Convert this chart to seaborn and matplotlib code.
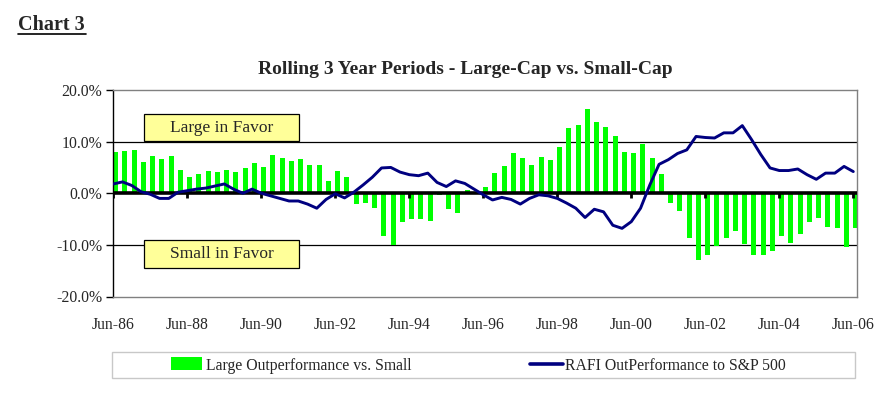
import numpy as np
import pandas as pd
import matplotlib
matplotlib.use("Agg")
import matplotlib.pyplot as plt
from matplotlib.patches import Rectangle
from matplotlib.lines import Line2D
import seaborn as sns

# ---- data (quarterly, Jun-86 .. Jun-06) ----
large_vs_small = [
    8.0, 8.1, 8.3, 6.0, 7.3, 6.7, 7.3, 4.5, 3.1, 3.7,
    4.4, 4.1, 4.5, 4.1, 4.8, 5.8, 5.0, 7.5, 6.9, 6.2,
    6.6, 5.5, 5.5, 2.4, 4.4, 3.2, -2.1, -1.8, -2.9, -8.2,
    -10.1, -5.6, -4.9, -4.9, -5.3, -0.3, -3.1, -3.8, 0.6, 0.2,
    1.2, 3.9, 5.2, 7.8, 6.8, 5.4, 7.1, 6.4, 9.0, 12.6,
    13.2, 16.4, 13.8, 12.8, 11.0, 7.9, 7.7, 9.6, 6.8, 3.7,
    -1.8, -3.4, -8.6, -12.9, -11.9, -10.2, -8.6, -7.3, -9.9, -11.9,
    -11.9, -11.2, -8.2, -9.7, -7.8, -5.6, -4.7, -6.6, -6.7, -10.5,
    -6.7,
]
rafi_vs_sp500 = [
    1.8, 2.2, 1.5, 0.3, -0.2, -1.0, -1.0, 0.2, 0.5, 0.8,
    1.0, 1.4, 1.8, 0.8, 0.0, 0.8, 0.0, -0.5, -1.0, -1.5,
    -1.5, -2.1, -2.9, -1.2, -0.1, -0.9, 0.2, 1.6, 3.1, 4.9,
    5.0, 4.1, 3.6, 3.4, 3.9, 2.1, 1.3, 2.4, 1.9, 0.8,
    -0.3, -1.3, -0.8, -1.2, -2.1, -1.0, -0.3, -0.5, -1.0, -1.9,
    -2.9, -4.7, -3.1, -3.6, -6.2, -6.8, -5.5, -2.9, 1.6, 5.6,
    6.5, 7.7, 8.4, 11.0, 10.8, 10.7, 11.7, 11.7, 13.1, 10.4,
    7.5, 4.9, 4.4, 4.4, 4.7, 3.6, 2.7, 3.9, 3.9, 5.2,
    4.2,
]
x_labels = ["Jun-86", "Jun-88", "Jun-90", "Jun-92", "Jun-94", "Jun-96",
            "Jun-98", "Jun-00", "Jun-02", "Jun-04", "Jun-06"]
y_ticks = [-20, -10, 0, 10, 20]

idx = np.arange(len(large_vs_small))
df = pd.DataFrame({"q": idx, "qbar": idx + 0.25,
                   "large": large_vs_small, "rafi": rafi_vs_sp500})

sns.set_style("white")
plt.rcParams["font.family"] = ["Liberation Serif", "DejaVu Serif"]

W, H = 895, 394
fig = plt.figure(figsize=(W / 100, H / 100), dpi=100)
fig.patch.set_facecolor("white")

L, R, T, B = 113.3, 856.7, 90.0, 296.5
ax = fig.add_axes([L / W, 1 - B / H, (R - L) / W, (B - T) / H])

GREEN = "#00FF00"
NAVY = "#000080"

sns.barplot(data=df, x="qbar", y="large", native_scale=True, width=0.56,
            color=GREEN, saturation=1, errorbar=None, ax=ax, zorder=2,
            linewidth=0)
ax.axhline(0, color="black", lw=2.6, zorder=3)
sns.lineplot(data=df, x="q", y="rafi", color=NAVY, linewidth=2.1,
             ax=ax, zorder=4)

ax.set_xlim(0, (R - L) / 9.25)
ax.set_ylim(-20, 20)

# gridlines at +/-10
for yv in (-10, 10):
    ax.axhline(yv, color="black", lw=0.9, zorder=1)

# spines
for s in ("top", "right", "bottom"):
    ax.spines[s].set_color("#808080")
    ax.spines[s].set_linewidth(1.0)
ax.spines["left"].set_color("black")
ax.spines["left"].set_linewidth(1.0)

# y axis
ax.set_yticks(y_ticks)
ax.set_yticklabels([f"{v:.1f}%" for v in y_ticks], fontsize=11.3)
ax.tick_params(axis="y", direction="out", length=5, width=1, color="black",
               pad=3, left=True)

# x axis labels at bottom; tick marks on zero line
xt = np.arange(0, len(idx), 8)
ax.set_xticks(xt)
ax.set_xticklabels(x_labels, fontsize=11.3)
ax.tick_params(axis="x", length=0, pad=15)
ax.vlines(xt, -1.0, 0, color="black", lw=2.0, zorder=3)
ax.set_xlabel("")
ax.set_ylabel("")

# annotation boxes
for (y0, y1, label) in ((10.06, 15.4, "Large in Favor"),
                        (-14.4, -9.03, "Small in Favor")):
    ax.add_patch(Rectangle((3.35, y0), 20.07 - 3.35, y1 - y0,
                           facecolor="#FFFF99", edgecolor="black", lw=0.9,
                           zorder=5))
    ax.text((3.35 + 20.07) / 2, (y0 + y1) / 2, label, ha="center",
            va="center", fontsize=12.5, zorder=6)

# titles
fig.text(18 / W, 1 - 25 / H, "Chart 3", fontsize=14.5, fontweight="bold",
         ha="left", va="center")
fig.add_artist(Line2D([18 / W, 86 / W], [1 - 34 / H, 1 - 34 / H],
                      color="black", lw=1.2))
fig.text(465 / W, 1 - 70 / H,
         "Rolling 3 Year Periods - Large-Cap vs. Small-Cap",
         fontsize=14, fontweight="bold", ha="center", va="center")

# legend box (drawn manually in figure coords)
fig.add_artist(Rectangle((112 / W, 1 - 378 / H), (855 - 112) / W, 26 / H,
                         transform=fig.transFigure, facecolor="white",
                         edgecolor="#C8C8C8", lw=1.0))
fig.add_artist(Rectangle((171 / W, 1 - 369.5 / H), 31 / W, 12.5 / H,
                         transform=fig.transFigure, facecolor=GREEN,
                         edgecolor="none"))
fig.text(206 / W, 1 - 365.5 / H, "Large Outperformance vs. Small",
         fontsize=11.3, ha="left", va="center")
fig.add_artist(Line2D([530 / W, 563 / W], [1 - 364 / H, 1 - 364 / H],
                      color=NAVY, lw=2.6))
fig.text(565 / W, 1 - 365.5 / H, "RAFI OutPerformance to S&P 500",
         fontsize=11.3, ha="left", va="center")

fig.savefig("out.png", dpi=100)
